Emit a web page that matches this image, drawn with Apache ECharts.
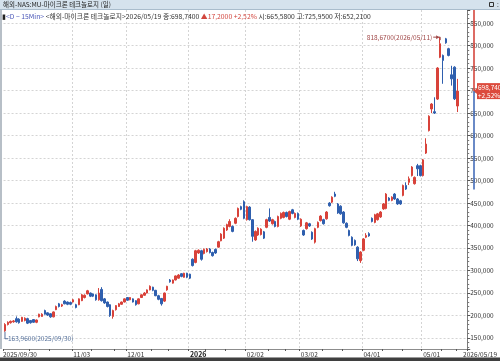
<!DOCTYPE html>
<html>
<head>
<meta charset="utf-8">
<script src="https://cdn.jsdelivr.net/npm/echarts@6/dist/echarts.min.js"></script>
<style>
  html, body { margin: 0; padding: 0; background: #fff; }
  #chart { width: 500px; height: 361px; }
</style>
</head>
<body>
<div id="chart"></div>
<script>
// 거래일: 주말과 미국 휴장일을 뺀 날짜
const startDate = [2025, 9, 30]
const endDate = [2026, 5, 19]
const holidays = ['2025/11/27', '2025/12/25', '2026/01/01', '2026/01/19', '2026/02/16', '2026/04/03']

// [시가, 종가, 저가, 고가]
const candles = [
  [166, 180, 163.96, 183], [180, 185, 178, 187], [184, 187, 182, 189], [186, 188, 184, 190],
  [193, 186, 184, 198], [192, 184, 182, 194], [187, 196, 186, 197], [189, 194, 187, 196],
  [193, 183, 181, 195], [189, 184, 182, 190], [191, 185, 184, 192], [185, 190, 183, 191],
  [197, 203, 196, 204], [198, 203, 197, 205], [211, 203, 202, 213], [206, 201, 199, 207],
  [204, 197, 195, 205], [197, 208, 196, 209], [213, 220, 212, 222], [226, 220, 218, 228],
  [221, 224, 219, 226], [232, 226, 225, 234], [230, 225, 223, 231], [229, 225, 223, 231],
  [230, 235, 229, 237], [224, 218, 216, 226], [224, 237, 223, 238], [233, 246, 232, 248],
  [240, 245, 238, 247], [248, 255, 247, 257], [250, 243, 241, 251], [248, 243, 241, 249],
  [246, 235, 233, 247], [235, 250, 233, 261], [258, 233, 231, 263], [237, 228, 226, 239],
  [230, 220, 218, 231], [224, 200, 197, 225], [198, 211, 193, 213], [213, 222, 211, 223],
  [220, 226, 219, 228], [225, 230, 224, 231], [230, 237, 229, 238], [240, 234, 233, 241],
  [235, 240, 234, 241], [237, 230, 229, 238], [233, 224, 222, 234], [226, 237, 225, 238],
  [240, 246, 239, 247], [245, 250, 244, 252], [250, 257, 249, 258], [257, 265, 256, 267],
  [263, 256, 254, 264], [256, 244, 243, 257], [244, 236, 234, 246], [238, 226, 222, 239],
  [232, 250, 230, 251], [257, 265, 255, 266], [279, 275, 273, 281], [272, 279, 271, 280],
  [279, 288, 278, 289], [283, 290, 282, 292], [293, 287, 285, 294], [285, 294, 284, 295],
  [294, 285, 283, 295], [292, 283, 281, 293], [325, 311, 309, 327], [318, 344, 316, 346],
  [339, 345, 337, 347], [344, 325, 322, 346], [338, 347, 336, 349], [342, 348, 340, 350],
  [348, 340, 338, 350], [340, 333, 331, 342], [347, 339, 337, 349], [352, 364, 351, 366],
  [366, 381, 365, 383], [372, 394, 370, 396], [390, 402, 388, 404], [398, 409, 396, 414],
  [398, 387, 385, 400], [405, 416, 403, 418], [420, 438, 418, 440], [442, 436, 434, 444],
  [453, 416, 414, 456], [413, 442, 411, 444], [441, 413, 411, 443], [413, 376, 364, 414],
  [368, 387, 366, 389], [379, 394, 377, 396], [380, 392, 378, 394], [386, 372, 370, 388],
  [396, 413, 394, 415], [418, 410, 408, 438], [404, 413, 402, 415], [409, 398, 396, 411],
  [398, 420, 396, 422], [416, 427, 414, 429], [418, 429, 416, 431], [429, 420, 418, 431],
  [414, 431, 412, 433], [435, 427, 425, 437], [418, 427, 416, 429], [427, 414, 412, 429],
  [399, 414, 397, 416], [389, 379, 377, 391], [393, 406, 391, 408], [404, 399, 397, 406],
  [385, 370, 368, 387], [363, 393, 360, 395], [396, 407, 394, 409], [411, 421, 409, 423],
  [413, 404, 402, 415], [415, 430, 413, 432], [450, 444, 442, 452], [452, 463, 450, 465],
  [470, 465, 463, 475], [448, 428, 426, 450], [443, 426, 424, 445], [430, 406, 404, 432],
  [405, 396, 394, 407], [389, 378, 376, 391], [374, 356, 354, 376], [367, 357, 355, 369],
  [352, 326, 321, 354], [322, 341, 317, 343], [345, 370, 343, 372], [374, 378, 372, 383],
  [382, 377, 375, 385], [416, 409, 407, 418], [407, 424, 405, 426], [413, 426, 411, 428],
  [419, 430, 417, 432], [437, 448, 435, 450], [438, 470, 436, 472], [461, 456, 454, 463],
  [456, 463, 454, 465], [470, 459, 457, 472], [459, 448, 446, 461], [455, 448, 446, 457],
  [467, 489, 465, 491], [489, 481, 479, 496], [496, 504, 490, 509], [511, 530, 509, 532],
  [493, 507, 491, 509], [533, 526, 510, 537], [533, 511, 509, 535], [511, 546, 509, 548],
  [561, 581, 559, 594], [611, 643, 609, 645], [659, 670, 650, 672], [653, 650, 648, 685],
  [681, 750, 679, 752], [774, 804, 772, 818.67], [778, 767, 715, 780], [815, 806, 804, 817],
  [793, 778, 776, 795], [735, 726, 711, 755], [752, 681.54, 679, 754], [665.58, 698.74, 652.21, 725.95]
]

const titleText = '해외-NAS:MU-마이크론 테크놀로지 (일)'
const infoPeriod = '<D − 15Min>'
const infoName = ' <해외-마이크론 테크놀로지>2026/05/19 종:698,7400 '
const infoChange = '▲17,2000 +2,52%'
const infoOhl = ' 시:665,5800 고:725,9500 저:652,2100'
const lastPrice = 698.74
const tagLines = ['698,740', '+2,52%']
const blueBandLow = 480

const UP = '#d8423a'
const DOWN = '#2f5fae'
const FONT = '"Noto Sans CJK KR", "Liberation Sans", sans-serif'

function pad2(n) { return String(n).padStart(2, '0') }
function buildDates() {
  const out = []
  const d = new Date(Date.UTC(startDate[0], startDate[1] - 1, startDate[2]))
  const end = Date.UTC(endDate[0], endDate[1] - 1, endDate[2])
  while (d.getTime() <= end) {
    const s = d.getUTCFullYear() + '/' + pad2(d.getUTCMonth() + 1) + '/' + pad2(d.getUTCDate())
    const wd = d.getUTCDay()
    if (wd !== 0 && wd !== 6 && !holidays.includes(s)) out.push(s)
    d.setUTCDate(d.getUTCDate() + 1)
  }
  return out
}
const dates = buildDates()

// 월 첫 거래일 라벨 (첫 달 바로 다음 날은 건너뜀)
function xLabel(i) {
  const s = dates[i]
  if (!s) return ''
  if (i === 0 || i === dates.length - 1) return s
  if (i < 2 || s.slice(0, 7) === dates[i - 1].slice(0, 7)) return ''
  return s.slice(5, 7) === '01' ? s.slice(0, 4) : s.slice(5)
}
function isMinorTick(i) {
  const s = dates[i]
  if (!s || i === 0) return false
  const d = +s.slice(8), p = +dates[i - 1].slice(8)
  return (d >= 12 && p < 12) || (d >= 22 && p < 22)
}

const fmtNum = v => v.toFixed(3).replace('.', ',')

const chart = echarts.init(document.getElementById('chart'), null, { renderer: 'canvas' })

chart.setOption({
  animation: false,
  backgroundColor: '#fff',
  grid: { left: 2, right: 26, top: 10, bottom: 12 },
  xAxis: {
    type: 'category',
    data: dates,
    max: 162,
    boundaryGap: true,
    axisLine: { lineStyle: { color: '#8c8c8c' } },
    axisTick: {
      show: true, length: 2, lineStyle: { color: '#555' },
      interval: i => xLabel(i) !== '' || isMinorTick(i)
    },
    axisLabel: {
      interval: i => xLabel(i) !== '',
      hideOverlap: false,
      margin: 2,
      align: 'left',
      fontSize: 6.5,
      fontFamily: FONT,
      color: '#333',
      formatter: (v, i) => {
        const t = xLabel(i)
        if (/^\d{4}$/.test(t)) return '{b|' + t + '}'
        if (i === 0) return '{s|' + t + '}'
        if (i === dates.length - 1) return '    ' + t
        return t
      },
      rich: {
        b: { fontWeight: 'bold', fontSize: 7, fontFamily: FONT, color: '#222' },
        s: { padding: [0, 0, 0, -2], fontSize: 6.5, fontFamily: FONT, color: '#333' }
      }
    },
    splitLine: {
      show: true,
      interval: i => i > 0 && i < dates.length - 1 && xLabel(i) !== '',
      lineStyle: { color: '#d4d4d4', type: [2, 2] }
    }
  },
  yAxis: {
    type: 'value',
    position: 'right',
    min: 125.6,
    max: 879,
    splitNumber: 15,
    minInterval: 50,
    maxInterval: 50,
    axisLine: { show: true, lineStyle: { color: '#7c7c7c' } },
    axisTick: { show: true, length: 3, lineStyle: { color: '#555' } },
    minorTick: { show: true, splitNumber: 5, length: 2, lineStyle: { color: '#777' } },
    axisLabel: {
      showMinLabel: false, showMaxLabel: false,
      margin: 3, fontSize: 6.5, fontFamily: FONT, color: '#333',
      formatter: fmtNum
    },
    splitLine: {
      show: true, showMinLine: false, showMaxLine: false,
      lineStyle: { color: '#d4d4d4', type: [2, 2] }
    }
  },
  series: [{
    type: 'candlestick',
    data: candles,
    barWidth: 2,
    itemStyle: {
      color: UP, color0: DOWN,
      borderColor: UP, borderColor0: DOWN,
      borderWidth: 1
    }
  }]
})

// 장식과 주석: 축 스케일로 좌표를 구함
const toPx = (i, v) => chart.convertToPixel({ gridIndex: 0 }, [i, v])
let hiIdx = 0, loIdx = 0
candles.forEach((r, i) => {
  if (r[3] > candles[hiIdx][3]) hiIdx = i
  if (r[2] < candles[loIdx][2]) loIdx = i
})
const hi = toPx(hiIdx, candles[hiIdx][3])
const lo = toPx(loIdx, candles[loIdx][2])
const axisX = 474
const topPx = toPx(0, 879)[1]
const lastPx = toPx(0, lastPrice)[1]
const bandPx = toPx(0, blueBandLow)[1]
const font = sz => 'normal ' + sz + 'px ' + FONT
const fmt4 = v => fmtNum(v) + '0'

chart.setOption({
  graphic: [
    { type: 'rect', z: 50, shape: { x: 0, y: 0, width: 500, height: 9 }, style: { fill: '#d5e2ed' } },
    { type: 'line', z: 50, shape: { x1: 0, y1: 9.5, x2: 500, y2: 9.5 }, style: { stroke: '#a9bccc', lineWidth: 1 } },
    { type: 'text', z: 51, x: 3, y: 5, style: { text: titleText, font: font(6.5), fill: '#222', textVerticalAlign: 'middle' } },
    { type: 'rect', z: 51, shape: { x: 489.5, y: 2.5, width: 4, height: 4 }, style: { fill: 'none', stroke: '#333', lineWidth: 1 } },
    { type: 'text', z: 51, x: 497, y: 5, style: { text: ':', font: font(6.5), fill: '#333', textVerticalAlign: 'middle' } },
    {
      type: 'text', z: 51, x: 2, y: 16,
      style: {
        text: '{k|▮}{p|' + infoPeriod + '}{t|' + infoName + '}{r|' + infoChange + '}{t|' + infoOhl + '}',
        textVerticalAlign: 'middle',
        rich: {
          k: { font: font(6.8), fill: '#222' },
          p: { font: font(6.8), fill: '#4a57b8' },
          t: { font: font(6.8), fill: '#333' },
          r: { font: font(6.8), fill: '#d2463e' }
        }
      }
    },
    { type: 'line', z: 40, shape: { x1: 1, y1: 10, x2: 1, y2: 349 }, style: { stroke: '#b7bfc7', lineWidth: 2 } },
    { type: 'line', z: 40, shape: { x1: 0, y1: 357.5, x2: 500, y2: 357.5 }, style: { stroke: '#9a9a9a', lineWidth: 1 } },
    { type: 'rect', z: 40, shape: { x: 0, y: 358, width: 500, height: 3 }, style: { fill: '#3f3f3f' } },
    { type: 'line', z: 45, shape: { x1: axisX, y1: topPx, x2: axisX, y2: lastPx }, style: { stroke: '#d23a30', lineWidth: 1.5 } },
    { type: 'line', z: 45, shape: { x1: axisX, y1: lastPx, x2: axisX, y2: bandPx }, style: { stroke: '#3863b4', lineWidth: 1.5 } },
    { type: 'polygon', z: 60, shape: { points: [[axisX, lastPx], [477, lastPx - 3], [477, lastPx + 3]] }, style: { fill: '#dc4a3c' } },
    { type: 'rect', z: 60, shape: { x: 477, y: lastPx - 8, width: 23, height: 16 }, style: { fill: '#dc4a3c' } },
    {
      type: 'text', z: 61, x: 478, y: lastPx,
      style: { text: tagLines.join('\n'), font: font(6.5), fill: '#fff', lineHeight: 8, textVerticalAlign: 'middle' }
    },
    { type: 'polyline', z: 55, shape: { points: [[hi[0] - 7, hi[1]], [hi[0], hi[1]], [hi[0], hi[1] + 3]] }, style: { stroke: '#a04848', lineWidth: 1, fill: 'none' } },
    { type: 'polygon', z: 55, shape: { points: [[hi[0] - 1, hi[1]], [hi[0] - 4, hi[1] - 2], [hi[0] - 4, hi[1] + 2]] }, style: { fill: '#a04848' } },
    {
      type: 'text', z: 55, x: hi[0] - 8, y: hi[1],
      style: { text: fmt4(candles[hiIdx][3]) + '(' + dates[hiIdx] + ')', font: font(6.5), fill: '#a04848', textAlign: 'right', textVerticalAlign: 'middle' }
    },
    { type: 'polyline', z: 55, shape: { points: [[lo[0], lo[1]], [lo[0], lo[1] + 7], [lo[0] + 3, lo[1] + 7]] }, style: { stroke: '#55709a', lineWidth: 1, fill: 'none' } },
    {
      type: 'text', z: 55, x: lo[0] + 3, y: lo[1] + 7,
      style: { text: fmt4(candles[loIdx][2]) + '(' + dates[loIdx] + ')', font: font(6.5), fill: '#55709a', textVerticalAlign: 'middle' }
    }
  ]
})

window.addEventListener('resize', () => chart.resize())
</script>
</body>
</html>
